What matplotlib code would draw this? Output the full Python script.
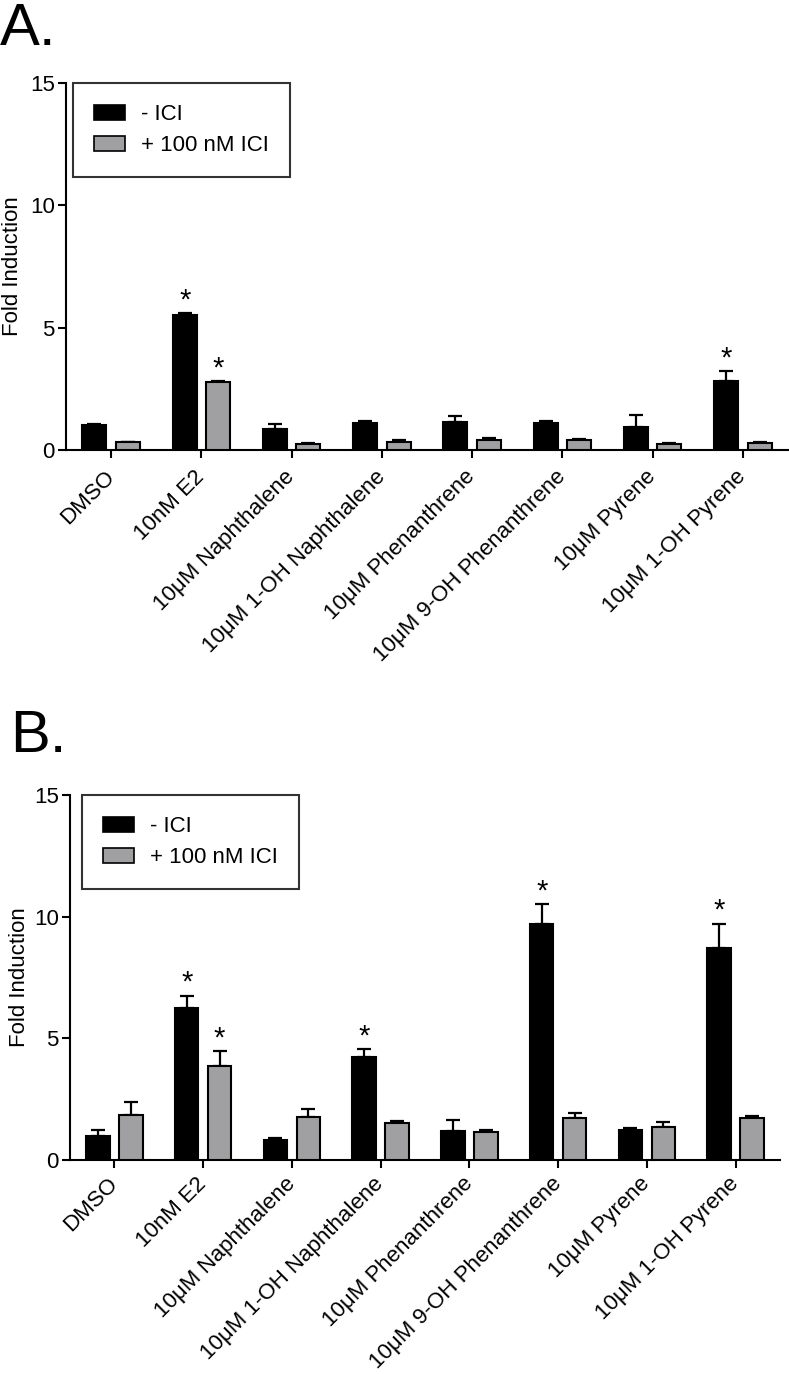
import matplotlib
matplotlib.use('Agg')
import matplotlib.pyplot as plt
import numpy as np

plt.rcParams['font.family'] = ['Liberation Sans', 'DejaVu Sans']

categories = ["DMSO", "10nM E2", "10μM Naphthalene", "10μM 1-OH Naphthalene",
              "10μM Phenanthrene", "10μM 9-OH Phenanthrene", "10μM Pyrene",
              "10μM 1-OH Pyrene"]
series_labels = ["- ICI", "+ 100 nM ICI"]
y_ticks = [0, 5, 10, 15]
panel_titles = ["A.", "B."]
y_label = "Fold Induction"

# Panel A
a_minus = [1.02, 5.50, 0.87, 1.10, 1.13, 1.12, 0.94, 2.82]
a_minus_err = [0.04, 0.08, 0.18, 0.10, 0.27, 0.08, 0.48, 0.41]
a_plus = [0.31, 2.78, 0.25, 0.34, 0.42, 0.42, 0.25, 0.29]
a_plus_err = [0.03, 0.03, 0.02, 0.05, 0.08, 0.02, 0.05, 0.05]
a_minus_sig = [0, 1, 0, 0, 0, 0, 0, 1]
a_plus_sig = [0, 1, 0, 0, 0, 0, 0, 0]

# Panel B
b_minus = [1.00, 6.26, 0.82, 4.25, 1.18, 9.71, 1.25, 8.73]
b_minus_err = [0.23, 0.50, 0.08, 0.30, 0.45, 0.81, 0.08, 0.98]
b_plus = [1.85, 3.86, 1.77, 1.52, 1.14, 1.73, 1.36, 1.73]
b_plus_err = [0.55, 0.62, 0.31, 0.10, 0.08, 0.19, 0.19, 0.09]
b_minus_sig = [0, 1, 0, 1, 0, 1, 0, 1]
b_plus_sig = [0, 1, 0, 0, 0, 0, 0, 0]

W, H = 789, 1374
fig = plt.figure(figsize=(W / 100, H / 100), dpi=100)

FS = 16
colors = ['black', '#A0A0A2']
offset = 0.185
bw = 0.265


def draw(ax, minus, minus_err, plus, plus_err, msig, psig, leg_x, lpad, xpad):
    x = np.arange(len(categories))
    for vals, errs, sig, off, col, lab in [
        (minus, minus_err, msig, -offset, colors[0], series_labels[0]),
        (plus, plus_err, psig, offset, colors[1], series_labels[1])]:
        vals = np.array(vals)
        errs = np.array(errs)
        ax.bar(x + off, vals, width=bw, color=col, edgecolor='black',
               linewidth=1.5, label=lab, zorder=3)
        ax.errorbar(x + off, vals, yerr=[np.zeros_like(errs), errs], fmt='none',
                    ecolor='black', elinewidth=1.6, capsize=4.8, capthick=1.6,
                    zorder=2)
        for xi, v, e, s in zip(x + off, vals, errs, sig):
            if s:
                ax.annotate('*', xy=(xi, v + e), xytext=(0, 3.5),
                            textcoords='offset points', ha='center',
                            va='baseline', fontsize=21)
    ax.set_xlim(-0.5, len(categories) - 0.5)
    ax.set_ylim(0, 15)
    ax.set_yticks(y_ticks)
    ax.set_xticks(x)
    ax.set_xticklabels(categories, rotation=45, ha='right', va='center',
                       rotation_mode='anchor', fontsize=FS)
    ax.tick_params(axis='both', direction='out', length=6, width=1.5,
                   labelsize=FS, pad=2)
    ax.tick_params(axis='x', pad=xpad)
    for s in ['top', 'right']:
        ax.spines[s].set_visible(False)
    for s in ['left', 'bottom']:
        ax.spines[s].set_linewidth(1.5)
    ax.set_ylabel(y_label, fontsize=FS, labelpad=lpad)
    leg = ax.legend(loc='upper left', bbox_to_anchor=(leg_x, 1.0),
                    borderaxespad=0, fancybox=False, frameon=True,
                    edgecolor='black', fontsize=FS, handlelength=1.4,
                    handleheight=0.68, handletextpad=0.7, labelspacing=0.45,
                    borderpad=0.95)
    leg.get_frame().set_linewidth(1.5)
    for p in leg.get_patches():
        p.set_linewidth(1.2)


axA = fig.add_axes([66 / W, 1 - 450 / H, 722 / W, 367 / H])
draw(axA, a_minus, a_minus_err, a_plus, a_plus_err, a_minus_sig, a_plus_sig,
     0.0097, 5, 11)
axB = fig.add_axes([70 / W, 1 - 1160 / H, 710 / W, 365 / H])
draw(axB, b_minus, b_minus_err, b_plus, b_plus_err, b_minus_sig, b_plus_sig,
     0.017, 3, 9)

fig.text(0 / W, 1 - 45 / H, panel_titles[0], fontsize=43, ha='left', va='baseline')
fig.text(10 / W, 1 - 752 / H, panel_titles[1], fontsize=43, ha='left', va='baseline')

fig.savefig('out.png', dpi=100)
